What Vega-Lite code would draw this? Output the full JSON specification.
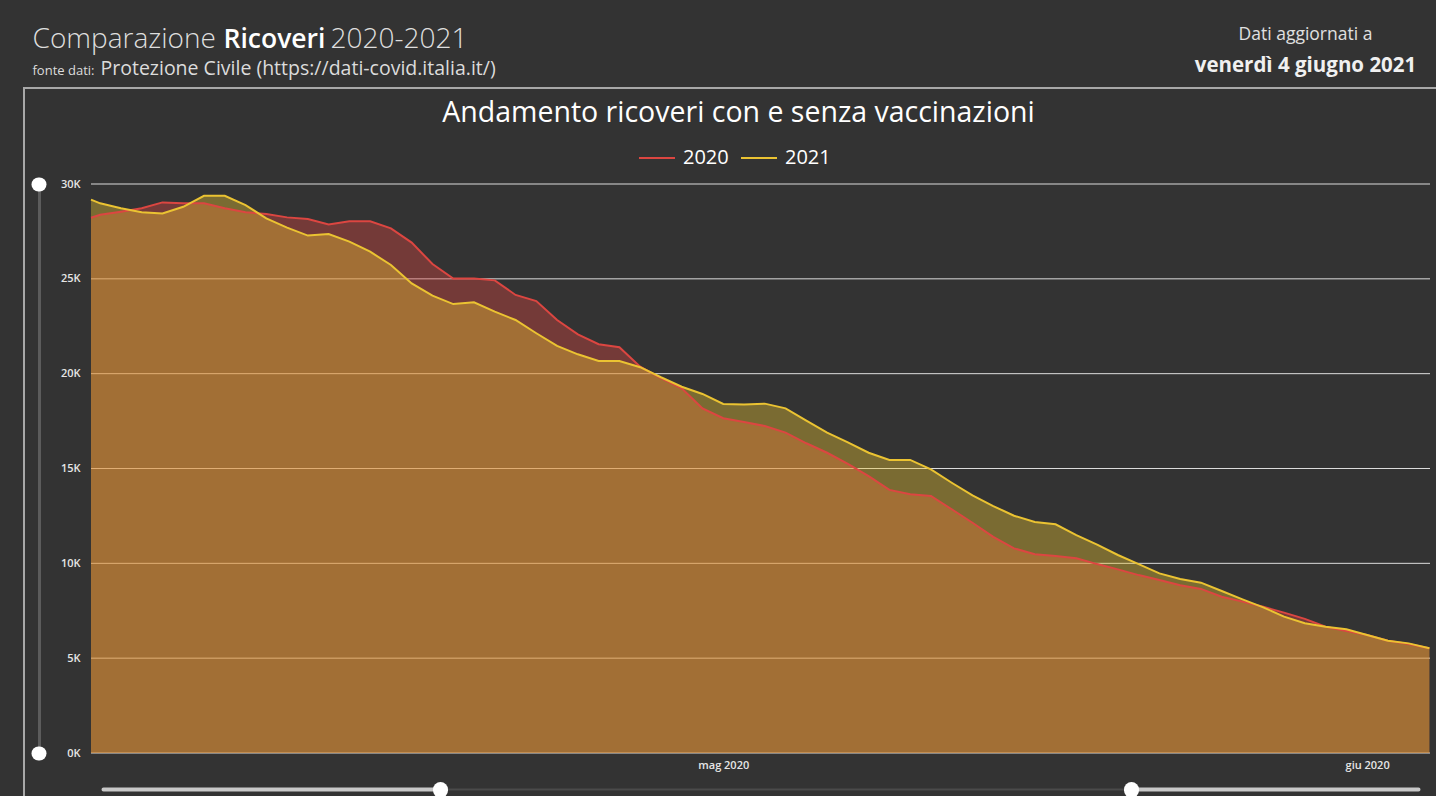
{
  "$schema": "https://vega.github.io/schema/vega-lite/v6.json",
  "autosize": {"type": "none"},
  "width": 1412,
  "height": 708,
  "padding": {"left": 24, "top": 88, "right": 0, "bottom": 0},
  "background": "#333333",
  "config": {
    "font": "Open Sans",
    "view": {"fill": "#333333", "stroke": "#a8a8a8", "strokeWidth": 2, "strokeDash": [1412, 2120, 708, 10]},
    "axis": {
      "grid": false, "domain": false, "ticks": false, "labels": false,
      "titleLimit": 1200, "titleAngle": 0, "titleAlign": "left", "titleBaseline": "alphabetic",
      "titleFont": "Open Sans", "titleColor": "#dedede", "titleFontWeight": "normal", "titlePadding": 0
    }
  },
  "data": {
    "values": [
      {"giorno": "2020-03-31", "2020": 28220, "2021": 29180},
      {"giorno": "2020-04-01", "2020": 28380, "2021": 28980},
      {"giorno": "2020-04-02", "2020": 28540, "2021": 28720},
      {"giorno": "2020-04-03", "2020": 28720, "2021": 28510},
      {"giorno": "2020-04-04", "2020": 29030, "2021": 28450},
      {"giorno": "2020-04-05", "2020": 28980, "2021": 28800},
      {"giorno": "2020-04-06", "2020": 28980, "2021": 29380},
      {"giorno": "2020-04-07", "2020": 28720, "2021": 29380},
      {"giorno": "2020-04-08", "2020": 28510, "2021": 28890},
      {"giorno": "2020-04-09", "2020": 28420, "2021": 28190},
      {"giorno": "2020-04-10", "2020": 28240, "2021": 27700},
      {"giorno": "2020-04-11", "2020": 28150, "2021": 27280},
      {"giorno": "2020-04-12", "2020": 27870, "2021": 27360},
      {"giorno": "2020-04-13", "2020": 28030, "2021": 26960},
      {"giorno": "2020-04-14", "2020": 28030, "2021": 26430},
      {"giorno": "2020-04-15", "2020": 27660, "2021": 25730},
      {"giorno": "2020-04-16", "2020": 26910, "2021": 24760},
      {"giorno": "2020-04-17", "2020": 25780, "2021": 24110},
      {"giorno": "2020-04-18", "2020": 25020, "2021": 23670},
      {"giorno": "2020-04-19", "2020": 25020, "2021": 23760},
      {"giorno": "2020-04-20", "2020": 24920, "2021": 23270},
      {"giorno": "2020-04-21", "2020": 24150, "2021": 22830},
      {"giorno": "2020-04-22", "2020": 23830, "2021": 22130},
      {"giorno": "2020-04-23", "2020": 22830, "2021": 21460},
      {"giorno": "2020-04-24", "2020": 22070, "2021": 21020},
      {"giorno": "2020-04-25", "2020": 21550, "2021": 20670},
      {"giorno": "2020-04-26", "2020": 21390, "2021": 20670},
      {"giorno": "2020-04-27", "2020": 20370, "2021": 20340},
      {"giorno": "2020-04-28", "2020": 19760, "2021": 19810},
      {"giorno": "2020-04-29", "2020": 19230, "2021": 19310},
      {"giorno": "2020-04-30", "2020": 18170, "2021": 18930},
      {"giorno": "2020-05-01", "2020": 17650, "2021": 18400},
      {"giorno": "2020-05-02", "2020": 17450, "2021": 18380},
      {"giorno": "2020-05-03", "2020": 17240, "2021": 18420},
      {"giorno": "2020-05-04", "2020": 16890, "2021": 18170},
      {"giorno": "2020-05-05", "2020": 16330, "2021": 17520},
      {"giorno": "2020-05-06", "2020": 15830, "2021": 16890},
      {"giorno": "2020-05-07", "2020": 15240, "2021": 16380},
      {"giorno": "2020-05-08", "2020": 14600, "2021": 15830},
      {"giorno": "2020-05-09", "2020": 13870, "2021": 15450},
      {"giorno": "2020-05-10", "2020": 13640, "2021": 15450},
      {"giorno": "2020-05-11", "2020": 13550, "2021": 14950},
      {"giorno": "2020-05-12", "2020": 12850, "2021": 14250},
      {"giorno": "2020-05-13", "2020": 12140, "2021": 13580},
      {"giorno": "2020-05-14", "2020": 11400, "2021": 13020},
      {"giorno": "2020-05-15", "2020": 10790, "2021": 12510},
      {"giorno": "2020-05-16", "2020": 10480, "2021": 12180},
      {"giorno": "2020-05-17", "2020": 10390, "2021": 12060},
      {"giorno": "2020-05-18", "2020": 10270, "2021": 11490},
      {"giorno": "2020-05-19", "2020": 9960, "2021": 10990},
      {"giorno": "2020-05-20", "2020": 9680, "2021": 10440},
      {"giorno": "2020-05-21", "2020": 9380, "2021": 9960},
      {"giorno": "2020-05-22", "2020": 9120, "2021": 9470},
      {"giorno": "2020-05-23", "2020": 8840, "2021": 9170},
      {"giorno": "2020-05-24", "2020": 8650, "2021": 8980},
      {"giorno": "2020-05-25", "2020": 8240, "2021": 8540},
      {"giorno": "2020-05-26", "2020": 7980, "2021": 8100},
      {"giorno": "2020-05-27", "2020": 7710, "2021": 7680},
      {"giorno": "2020-05-28", "2020": 7400, "2021": 7190},
      {"giorno": "2020-05-29", "2020": 7070, "2021": 6840},
      {"giorno": "2020-05-30", "2020": 6660, "2021": 6660},
      {"giorno": "2020-05-31", "2020": 6430, "2021": 6520},
      {"giorno": "2020-06-01", "2020": 6220, "2021": 6220},
      {"giorno": "2020-06-02", "2020": 5920, "2021": 5920},
      {"giorno": "2020-06-03", "2020": 5750, "2021": 5780},
      {"giorno": "2020-06-04", "2020": 5520, "2021": 5520}
    ]
  },
  "layer": [
    {
      "data": {"values": [{"soglia": 0}, {"soglia": 5000}, {"soglia": 10000}, {"soglia": 15000}, {"soglia": 20000}, {"soglia": 25000}, {"soglia": 30000}]},
      "mark": {"type": "rule", "color": "#dcdcdc", "strokeWidth": 1},
      "encoding": {
        "x": {
          "datum": {"year": 2020, "month": 3, "date": 31, "hours": 13, "minutes": 25, "utc": true},
          "type": "temporal",
          "scale": {
            "type": "utc",
            "domain": [
              {"year": 2020, "month": 3, "date": 31, "hours": 13, "minutes": 25, "utc": true},
              {"year": 2020, "month": 6, "date": 4, "hours": 0, "minutes": 40, "utc": true}
            ],
            "range": [67, 1406],
            "clamp": true,
            "nice": false
          },
          "axis": {
            "orient": "bottom", "offset": -43, "labels": true,
            "values": [
              {"year": 2020, "month": 5, "date": 1, "utc": true},
              {"year": 2020, "month": 6, "date": 1, "utc": true}
            ],
            "labelExpr": "['gen','feb','mar','apr','mag','giu','lug','ago','set','ott','nov','dic'][utcmonth(datum.value)] + ' ' + utcyear(datum.value)",
            "labelColor": "#e6e6e6", "labelFontSize": 11, "labelFontWeight": 600, "labelPadding": 6,
            "title": "Dati aggiornati a", "titleX": 1281, "titleY": -714, "titleAlign": "center",
            "titleFontSize": 17.5, "titleColor": "#e0e0e0"
          }
        },
        "x2": {"datum": {"year": 2020, "month": 6, "date": 4, "hours": 0, "minutes": 40, "utc": true}},
        "y": {
          "field": "soglia", "type": "quantitative",
          "scale": {"domain": [0, 30000], "range": [665, 96], "nice": false, "zero": false},
          "axis": {
            "orient": "left", "offset": -67, "labels": true,
            "values": [0, 5000, 10000, 15000, 20000, 25000, 30000],
            "labelExpr": "datum.value / 1000 + 'K'",
            "labelColor": "#e6e6e6", "labelFontSize": 11, "labelFontWeight": 600, "labelPadding": 11,
            "title": "venerdì 4 giugno 2021", "titleX": 1214, "titleY": -17, "titleAlign": "center",
            "titleFontSize": 20.5, "titleFontWeight": "bold", "titleColor": "#f0f0f0"
          }
        }
      }
    },
    {
      "mark": {"type": "area", "color": "#DC4641", "fillOpacity": 0.39},
      "encoding": {
        "x": {
          "field": "giorno", "type": "temporal",
          "axis": {
            "orient": "bottom", "offset": -7, "domain": true,
            "domainColor": "#c8c8c8", "domainWidth": 4, "domainCap": "round",
            "domainDash": [337, 691, 287, 5000], "domainDashOffset": -12,
            "title": "Protezione Civile (https://dati-covid.italia.it/)", "titleX": 76, "titleY": -715,
            "titleFontSize": 19.5, "titleColor": "#dcdcdc"
          }
        },
        "y": {
          "field": "2020", "type": "quantitative", "stack": null,
          "axis": {
            "orient": "left", "offset": -15, "domain": true, "domainColor": "#5c5c5c", "domainWidth": 3,
            "title": "Comparazione", "titleX": -7, "titleY": -41,
            "titleFontSize": 28, "titleFontWeight": 300, "titleColor": "#dedede"
          }
        }
      }
    },
    {
      "mark": {"type": "area", "color": "#EBC332", "fillOpacity": 0.39},
      "encoding": {
        "x": {
          "field": "giorno", "type": "temporal",
          "axis": {
            "orient": "bottom", "offset": -7, "domain": true,
            "domainColor": "#4a4a4a", "domainWidth": 2,
            "domainDash": [691, 5000], "domainDashOffset": -349,
            "title": "fonte dati:", "titleX": 8, "titleY": -715,
            "titleFontSize": 13, "titleColor": "#dcdcdc"
          }
        },
        "y": {
          "field": "2021", "type": "quantitative", "stack": null,
          "axis": {
            "orient": "left", "offset": -15, "ticks": true, "values": [0, 30000],
            "tickColor": "#ffffff", "tickWidth": 14, "tickSize": 1, "tickCap": "round", "zindex": 1,
            "title": "Ricoveri", "titleX": 184, "titleY": -41,
            "titleFontSize": 26.5, "titleFontWeight": 600, "titleColor": "#ffffff"
          }
        }
      }
    },
    {
      "transform": [{"fold": ["2020", "2021"], "as": ["anno", "ricoverati"]}],
      "mark": {"type": "line", "strokeWidth": 2},
      "encoding": {
        "x": {
          "field": "giorno", "type": "temporal",
          "axis": {
            "orient": "bottom", "offset": -7, "ticks": true,
            "values": [
              {"year": 2020, "month": 4, "date": 17, "hours": 8, "minutes": 41, "utc": true},
              {"year": 2020, "month": 5, "date": 20, "hours": 15, "minutes": 8, "utc": true}
            ],
            "tickColor": "#ffffff", "tickWidth": 15, "tickSize": 1, "tickCap": "round", "zindex": 1,
            "title": "Andamento ricoveri con e senza vaccinazioni", "titleX": 714, "titleY": -668,
            "titleAlign": "center", "titleFontSize": 28.5, "titleColor": "#ffffff"
          }
        },
        "y": {
          "field": "ricoverati", "type": "quantitative",
          "axis": {
            "orient": "left", "offset": 0,
            "title": "2020-2021", "titleX": 306, "titleY": -41,
            "titleFontSize": 28, "titleFontWeight": 300, "titleColor": "#dedede"
          }
        },
        "color": {
          "field": "anno", "type": "nominal",
          "scale": {"domain": ["2020", "2021"], "range": ["#DC4641", "#EBC332"]},
          "legend": {
            "orient": "none", "legendX": 614, "legendY": 51, "direction": "horizontal", "title": null,
            "symbolType": "stroke", "symbolSize": 1296, "symbolStrokeWidth": 2,
            "labelFontSize": 20, "labelColor": "#ffffff", "labelFont": "Open Sans",
            "columnPadding": 8, "labelOffset": 7, "padding": 0
          }
        }
      }
    }
  ],
  "resolve": {"axis": {"x": "independent", "y": "independent"}}
}
